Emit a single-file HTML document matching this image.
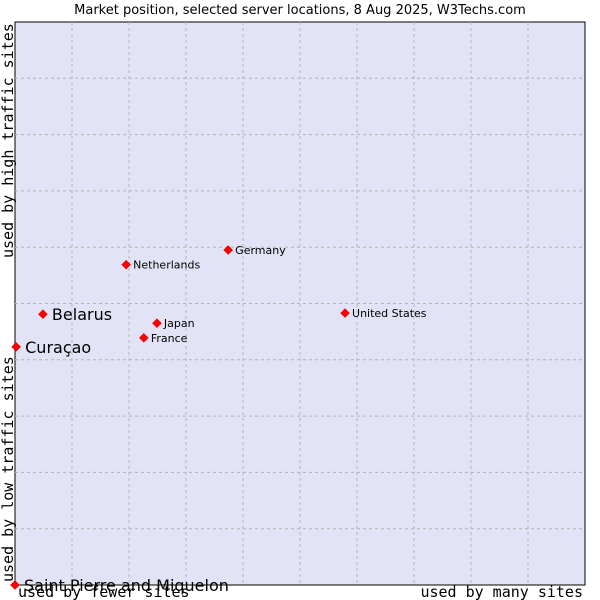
<!DOCTYPE html>
<html><head><meta charset="utf-8"><style>
body{margin:0;background:#fff;}
svg{display:block;font-family:"DejaVu Sans","Liberation Sans",sans-serif;}
</style></head><body>
<svg id="chart" width="600" height="600">
<text x="300" y="14" text-anchor="middle" font-size="13" fill="#000">Market position, selected server locations, 8 Aug 2025, W3Techs.com</text>
<rect x="15" y="22" width="570" height="563" fill="#e3e3f7" stroke="#000" stroke-width="1"/>
<g id="grid"></g>
<g id="points"></g>
<text transform="translate(13,258) rotate(-90)" font-family="'DejaVu Sans Mono','Liberation Mono',monospace" font-size="15">used by high traffic sites</text>
<text transform="translate(13,582) rotate(-90)" font-family="'DejaVu Sans Mono','Liberation Mono',monospace" font-size="15">used by low traffic sites</text>
<text x="18" y="597" font-family="'DejaVu Sans Mono','Liberation Mono',monospace" font-size="15">used by fewer sites</text>
<text x="583" y="597" text-anchor="end" font-family="'DejaVu Sans Mono','Liberation Mono',monospace" font-size="15">used by many sites</text>
</svg>
<script>
const categories=["Saint Pierre and Miquelon","Curaçao","Belarus","Netherlands","Germany","Japan","France","United States"];
const xValues=[0,0.2,4.9,19.5,37.4,24.9,22.6,57.9];
const yValues=[0,42.3,48.1,56.9,59.5,46.5,43.9,48.3];
const bigLabel=[true,true,true,false,false,false,false,false];
const NS="http://www.w3.org/2000/svg";
const L=15,T=22,W=570,H=563;
const sx=v=>L+v/100*W, sy=v=>T+H-v/100*H;
const grid=document.getElementById('grid');
for(let i=1;i<10;i++){
  const x=L+W*i/10,y=T+H*i/10;
  const a=document.createElementNS(NS,'line');
  a.setAttribute('x1',x);a.setAttribute('x2',x);a.setAttribute('y1',T);a.setAttribute('y2',T+H);
  a.setAttribute('stroke','#b4b4b4');a.setAttribute('stroke-dasharray','3,3');
  
  
  grid.appendChild(a);
  const b=document.createElementNS(NS,'line');
  b.setAttribute('x1',L);b.setAttribute('x2',L+W);b.setAttribute('y1',y);b.setAttribute('y2',y);
  b.setAttribute('stroke','#b4b4b4');b.setAttribute('stroke-dasharray','3,3');
  
  
  grid.appendChild(b);
}
const pts=document.getElementById('points');
categories.forEach((c,i)=>{
  const x=sx(xValues[i]),y=sy(yValues[i]);
  const p=document.createElementNS(NS,'path');
  p.setAttribute('d',`M${x} ${y-4.5}L${x+4.5} ${y}L${x} ${y+4.5}L${x-4.5} ${y}Z`);
  p.setAttribute('fill','#ff0000');p.setAttribute('stroke','#c00000');p.setAttribute('stroke-width','0.5');
  
  
  pts.appendChild(p);
  const t=document.createElementNS(NS,'text');
  t.setAttribute('x',x+(bigLabel[i]?9:7));
  t.setAttribute('y',y+(bigLabel[i]?6:4));
  t.setAttribute('font-size',bigLabel[i]?'16':'11');
  t.textContent=c;
  
  
  pts.appendChild(t);
});
</script>
</body></html>
